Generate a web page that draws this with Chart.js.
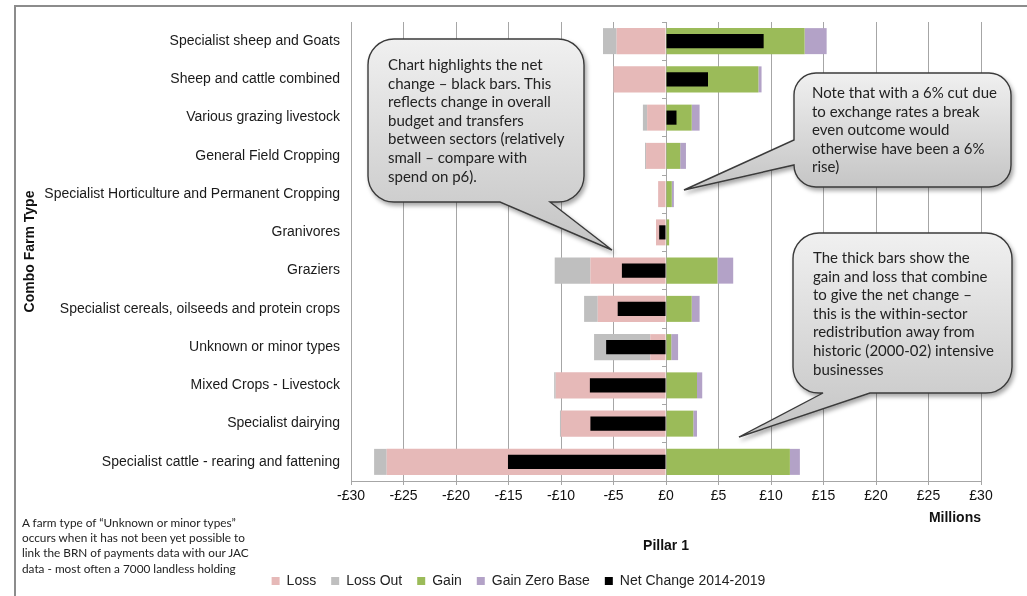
<!DOCTYPE html>
<html>
<head>
<meta charset="utf-8">
<script src="https://cdn.jsdelivr.net/npm/chart.js@4/dist/chart.umd.min.js"></script>
<style>
  body { margin: 0; background: #fff; }
  #wrap { position: relative; width: 1027px; height: 596px; overflow: hidden; }
  #frame { position: absolute; left: 14px; top: 5px; right: -5px; bottom: -5px;
           border-top: 2px solid #8c8c8c; border-left: 2px solid #8c8c8c; }
  #notes { position: absolute; left: 0; top: 0; pointer-events: none; }
  #notes text { font-family: Lato, "Open Sans", sans-serif; fill: #222; }
</style>
</head>
<body>
<div id="wrap">
  <div id="frame"></div>
  <canvas id="pillarChart" width="1027" height="596"></canvas>
  <svg id="notes" width="1027" height="596"></svg>
</div>
<script>
const categories = [
  "Specialist sheep and Goats",
  "Sheep and cattle combined",
  "Various grazing livestock",
  "General Field Cropping",
  "Specialist Horticulture and Permanent Cropping",
  "Granivores",
  "Graziers",
  "Specialist cereals, oilseeds and protein crops",
  "Unknown or minor types",
  "Mixed Crops - Livestock",
  "Specialist dairying",
  "Specialist cattle - rearing and fattening",
];

// £ millions
const loss = [-4.7, -5.0, -1.8, -1.9, -0.75, -0.95, -7.2, -6.5, -1.5, -10.5, -10.0, -26.6];
const lossOut = [-1.3, 0, -0.4, -0.1, 0, 0, -3.4, -1.3, -5.35, -0.15, -0.1, -1.2];
const gain = [13.2, 8.8, 2.45, 1.35, 0.55, 0.3, 4.9, 2.45, 0.5, 2.95, 2.6, 11.8];
const gainZeroBase = [2.1, 0.3, 0.75, 0.55, 0.2, 0, 1.5, 0.75, 0.65, 0.5, 0.35, 0.95];
const netChange = [9.3, 4.0, 1.0, 0, 0, -0.65, -4.2, -4.6, -5.7, -7.25, -7.2, -15.05];

const xTicks = [-30, -25, -20, -15, -10, -5, 0, 5, 10, 15, 20, 25, 30];

const colors = {
  loss: "#e6b9b8",
  lossOut: "#bfbfbf",
  gain: "#9bbb59",
  gainZero: "#b3a2c7",
  net: "#000000",
};

// callout boxes: [x0, y0, x1, y1, radius], tail, text lines
const callouts = [
  {
    box: [368, 39, 584, 202, 26],
    tail: { side: "bottom", a: 550, b: 500, tx: 612, ty: 250 },
    textX: 388, textY: 70,
    lines: [
      "Chart highlights the net",
      "change \u2013 black bars.  This",
      "reflects change in overall",
      "budget and transfers",
      "between sectors (relatively",
      "small \u2013 compare with",
      "spend on p6).",
    ],
  },
  {
    box: [794, 73, 1011, 187, 22],
    tail: { side: "left", a: 165, b: 140, tx: 684, ty: 190 },
    textX: 812, textY: 98,
    lines: [
      "Note that with a 6% cut due",
      "to exchange rates a break",
      "even outcome would",
      "otherwise have been a 6%",
      "rise)",
    ],
  },
  {
    box: [793, 233, 1012, 393, 26],
    tail: { side: "bottom", a: 870, b: 823, tx: 739, ty: 437 },
    textX: 813, textY: 263,
    lines: [
      "The thick bars show the",
      "gain and loss that combine",
      "to give the net change \u2013",
      "this is the within-sector",
      "redistribution away from",
      "historic (2000-02) intensive",
      "businesses",
    ],
  },
];

const footnote = [
  "A farm type of \u201cUnknown or minor types\u201d",
  "occurs when it has not been yet possible to",
  "link the BRN of payments data with our JAC",
  "data - most often a 7000 landless holding",
];

Chart.defaults.font.family = "'Liberation Sans', Arial, sans-serif";
Chart.defaults.font.size = 14;
Chart.defaults.color = "#1a1a1a";

function money(v) {
  return (v < 0 ? "-\u00a3" : "\u00a3") + Math.abs(v);
}

function bar(label, data, color, stack, pct) {
  return {
    label,
    data,
    backgroundColor: color,
    borderWidth: 0,
    stack,
    grouped: false,
    barPercentage: pct,
    categoryPercentage: 1,
    order: stack === "net" ? 0 : 1,
  };
}

// the original legend sits a little right of the page centre
const legendNudge = {
  id: "legendNudge",
  afterLayout(chart) {
    chart.legend.left += 9;
    chart.legend.right += 9;
  },
};

new Chart(document.getElementById("pillarChart"), {
  type: "bar",
  data: {
    labels: categories,
    datasets: [
      bar("Loss", loss, colors.loss, "main", 0.68),
      bar("Loss Out", lossOut, colors.lossOut, "main", 0.68),
      bar("Gain", gain, colors.gain, "main", 0.68),
      bar("Gain Zero Base", gainZeroBase, colors.gainZero, "main", 0.68),
      bar("Net Change 2014-2019", netChange, colors.net, "net", 0.37),
    ],
  },
  options: {
    indexAxis: "y",
    responsive: false,
    animation: false,
    layout: { padding: { top: 22, left: 38, right: 46, bottom: -2 } },
    plugins: {
      tooltip: { enabled: false },
      legend: {
        position: "bottom",
        labels: {
          boxWidth: 8,
          boxHeight: 8,
          padding: 15,
          color: "#222",
          sort: (a, b) => a.datasetIndex - b.datasetIndex,
        },
      },
      title: {
        display: true,
        text: "Pillar 1",
        position: "bottom",
        fullSize: false,
        weight: 500,
        color: "#111",
        font: { weight: "bold", size: 14 },
        padding: { top: 11, bottom: 4.6 },
      },
    },
    scales: {
      x: {
        stacked: true,
        min: -30,
        max: 30,
        afterBuildTicks: (scale) => {
          scale.ticks = xTicks.map((v) => ({ value: v }));
        },
        ticks: { callback: (v) => money(v), padding: 3, color: "#111" },
        grid: { color: "#a6a6a6", tickLength: 4 },
        border: { color: "#a6a6a6" },
        title: {
          display: true,
          text: "Millions",
          align: "end",
          color: "#111",
          font: { weight: "bold", size: 14 },
          padding: { top: 2, bottom: 0 },
        },
      },
      y: {
        stacked: true,
        afterFit: (scale) => {
          scale.width = 313;
        },
        grid: { display: false, drawTicks: false },
        border: { display: false },
        ticks: { padding: 11, color: "#1a1a1a" },
        title: {
          display: true,
          text: "Combo Farm Type",
          color: "#111",
          font: { weight: "bold", size: 14 },
          padding: { top: -16, bottom: 0 },
        },
      },
      // vertical axis line through zero with the little category marks
      y2: {
        type: "category",
        position: { x: 0 },
        labels: categories,
        ticks: { display: false },
        grid: { drawOnChartArea: false, offset: true, tickLength: 4, color: "#a6a6a6" },
        border: { color: "#a6a6a6" },
      },
    },
  },
  plugins: [legendNudge],
});

function bubblePath([x0, y0, x1, y1, r], t) {
  let d = `M${x0 + r} ${y0} H${x1 - r} A${r} ${r} 0 0 1 ${x1} ${y0 + r}`;
  d += ` V${y1 - r} A${r} ${r} 0 0 1 ${x1 - r} ${y1}`;
  if (t.side === "bottom") d += ` H${t.a} L${t.tx} ${t.ty} L${t.b} ${y1}`;
  d += ` H${x0 + r} A${r} ${r} 0 0 1 ${x0} ${y1 - r}`;
  if (t.side === "left") d += ` V${t.a} L${t.tx} ${t.ty} L${x0} ${t.b}`;
  d += ` V${y0 + r} A${r} ${r} 0 0 1 ${x0 + r} ${y0} Z`;
  return d;
}

function textBlock(x, y, lines, size, step) {
  const spans = lines
    .map((l, i) => `<tspan x="${x}" y="${y + i * step}">${l}</tspan>`)
    .join("");
  return `<text font-size="${size}">${spans}</text>`;
}

function drawNotes() {
  const svg = document.getElementById("notes");
  let html = `<defs>
    <linearGradient id="bub" x1="0" y1="0" x2="0" y2="1">
      <stop offset="0" stop-color="#f0f0f0"/>
      <stop offset="1" stop-color="#c4c4c4"/>
    </linearGradient>
    <filter id="shadow" x="-10%" y="-10%" width="130%" height="130%">
      <feDropShadow dx="2" dy="3" stdDeviation="2" flood-color="#000" flood-opacity="0.35"/>
    </filter>
  </defs>`;
  callouts.forEach((c) => {
    html += `<path d="${bubblePath(c.box, c.tail)}" fill="url(#bub)" stroke="#3a3a3a" stroke-width="1.4" filter="url(#shadow)"/>`;
    html += textBlock(c.textX, c.textY, c.lines, 15, 18.6);
  });
  html += textBlock(22, 527, footnote, 11.8, 15.2);
  svg.innerHTML = html;
}

drawNotes();
</script>
</body>
</html>
